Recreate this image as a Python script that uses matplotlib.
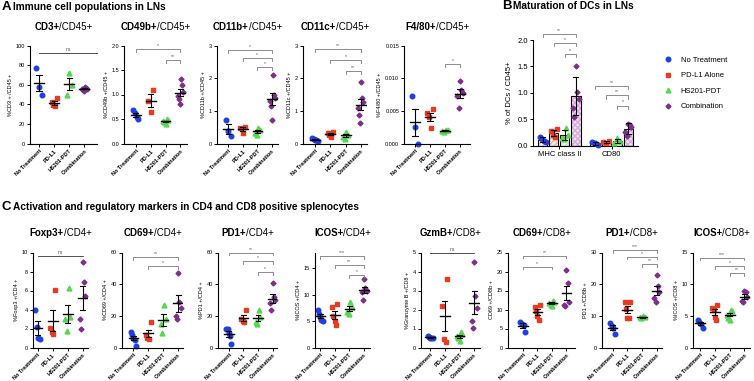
import matplotlib

matplotlib.use("Agg")
import matplotlib.pyplot as plt
import numpy as np
from matplotlib.lines import Line2D

plt.rcParams["font.family"] = ["Liberation Sans", "DejaVu Sans"]

W, H = 754, 381

GROUPS = ["No Treatment", "PD-L1", "HS201-PDT", "Combination"]
LEGEND = ["No Treatment", "PD-L1 Alone", "HS201-PDT", "Combination"]
COLORS = ["#1c3fe6", "#ea3a22", "#55d94f", "#7f2e8c"]
MARKERS = ["o", "s", "^", "D"]
MSIZE = [3.3, 3.1, 3.5, 2.5]

# --- panel A: immune cell populations in LNs (% of CD45+)
cd3 = [[77, 58, 49], [46, 42, 39, 38], [72, 60, 50], [58, 57, 56, 56, 55, 54]]
cd49b = [[0.68, 0.62, 0.55, 0.50], [1.10, 0.87, 0.65], [0.50, 0.47, 0.45, 0.43, 0.40],
         [1.31, 1.19, 1.05, 0.97, 0.90, 0.81]]
cd11b = [[0.72, 0.38, 0.23], [0.52, 0.48, 0.33], [0.48, 0.40, 0.33, 0.27],
         [2.10, 1.48, 1.38, 1.30, 1.15, 0.72]]
cd11c = [[0.16, 0.13, 0.12, 0.10, 0.08], [0.36, 0.31, 0.27, 0.20], [0.36, 0.27, 0.20, 0.15],
         [1.88, 1.40, 1.28, 1.10, 0.88, 0.62]]
f480 = [[0.0072, 0.0025, 0.0000], [0.0053, 0.0046, 0.0040, 0.0023],
        [0.0021, 0.0020, 0.0019, 0.0017], [0.0096, 0.0082, 0.0077, 0.0072, 0.0054]]

# --- panel B: DC maturation (% of DCs / CD45+)
dc_markers = ["MHC class II", "CD80"]
mhc2 = [[0.17, 0.13, 0.08, 0.07], [0.31, 0.28, 0.20, 0.17], [0.34, 0.20, 0.15, 0.13],
        [1.50, 1.02, 0.88, 0.72, 0.55]]
cd80 = [[0.07, 0.05, 0.02], [0.09, 0.07, 0.06], [0.14, 0.08, 0.06],
        [0.42, 0.39, 0.36, 0.25, 0.18]]

# --- panel C: splenocytes
foxp3_cd4 = [[4.0, 2.2, 1.0, 0.9], [6.1, 2.1, 1.6, 1.4], [6.3, 3.2, 3.0, 1.7],
             [9.0, 6.9, 5.4, 3.0, 1.9]]
cd69_cd4 = [[10, 8, 6, 5, 1], [16, 8, 6, 5.5], [27, 18, 15, 9], [47, 29, 25, 20, 18]]
pd1_cd4 = [[12, 11.5, 9, 7, 2.5], [23.5, 18, 17, 16], [24, 19, 16, 15],
           [40.5, 32, 30, 28, 23.5]]
icos_cd4 = [[7.2, 6.3, 5.8, 5.3, 5.0], [8.2, 7.6, 6.0, 5.0, 4.2], [8.7, 7.6, 6.8, 6.3],
            [13.0, 11.2, 10.8, 10.5, 9.0]]
gzmb_cd8 = [[0.62, 0.56, 0.52, 0.50, 0.48], [3.62, 2.18, 0.45, 0.28],
            [0.80, 0.72, 0.60, 0.50, 0.35], [4.5, 2.7, 2.1, 1.4, 1.05]]
cd69_cd8 = [[6.7, 6.3, 6.0, 4.1], [11.3, 10.6, 9.5, 8.2, 7.2], [12.3, 12.0, 11.6, 11.3, 11.0],
            [20.3, 17.0, 12.1, 11.2, 10.9]]
pd1_cd8 = [[7.6, 6.9, 6.3, 4.2], [14.5, 14.4, 12.3, 9.4, 9.2], [9.8, 9.6, 9.5, 9.3],
           [23.0, 19.4, 17.6, 15.6, 14.3]]
icos_cd8 = [[4.3, 4.1, 3.7, 3.1], [6.7, 6.3, 5.9, 4.8, 4.4], [6.0, 5.7, 5.2, 4.7, 4.4],
            [8.9, 8.7, 8.0, 7.4, 7.2]]

fig = plt.figure(figsize=(W / 100, H / 100), dpi=100)


def rect(x0, x1, ytop, ybot):
    return [x0 / W, 1 - ybot / H, (x1 - x0) / W, (ybot - ytop) / H]


def style_axes(ax, tick_size=4):
    for s in ("top", "right"):
        ax.spines[s].set_visible(False)
    for s in ("left", "bottom"):
        ax.spines[s].set_linewidth(0.8)
    ax.tick_params(length=2, width=0.7, labelsize=tick_size, pad=1.5)


def bracket(ax, x1, x2, y, label, drop=0.03, color="#7a7a7a", size=3.6):
    lo, hi = ax.get_ylim()
    d = drop * (hi - lo)
    xs = [x1, x1, x2, x2] if drop else [x1, x2]
    ys = [y - d, y, y, y - d] if drop else [y, y]
    ax.plot(xs, ys, color=color, lw=0.6, clip_on=False)
    ax.text((x1 + x2) / 2, y + 0.01 * (hi - lo), label, ha="center", va="bottom",
            fontsize=size, color="#555555", clip_on=False)


def mixed_title(ax, bold, rest, ypix, size=7):
    # bold marker name followed by the normal-weight parent population, centred over the axes
    r = fig.canvas.get_renderer()
    bb = ax.get_position()
    cx = (bb.x0 + bb.x1) / 2
    y = 1 - ypix / H
    t1 = fig.text(0, y, bold, fontweight="bold", fontsize=size, va="center")
    t2 = fig.text(0, y, rest, fontsize=size, va="center")
    w1 = t1.get_window_extent(r).width / fig.bbox.width
    w2 = t2.get_window_extent(r).width / fig.bbox.width
    x0 = cx - (w1 + w2) / 2
    t1.set_x(x0)
    t2.set_x(x0 + w1)


def dot_panel(pos, data, xlim, ylim, yticks, ylabel, title, tpix, brackets=(), fmt=None):
    ax = fig.add_axes(pos)
    for i, vals in enumerate(data):
        vals = np.asarray(vals, dtype=float)
        n = len(vals)
        offs = np.roll(np.linspace(-0.17, 0.17, n), i)
        ax.plot(i + offs, vals, ls="none", marker=MARKERS[i], ms=MSIZE[i],
                color=COLORS[i], mec=COLORS[i], clip_on=False, zorder=2)
        m = vals.mean()
        sem = vals.std(ddof=1) / np.sqrt(n)
        ax.plot([i - 0.33, i + 0.33], [m, m], color="black", lw=1.0, zorder=3)
        ax.plot([i, i], [m - sem, m + sem], color="black", lw=0.8, zorder=3)
        for e in (m - sem, m + sem):
            ax.plot([i - 0.17, i + 0.17], [e, e], color="black", lw=0.8, zorder=3)
    ax.set_xlim(*xlim)
    ax.set_ylim(*ylim)
    ax.set_yticks(yticks)
    if fmt:
        ax.set_yticklabels([fmt.format(t) for t in yticks])
    ax.set_xticks(range(4))
    ax.set_xticklabels(GROUPS, rotation=45, ha="right", rotation_mode="anchor",
                       fontweight="bold", fontsize=4)
    style_axes(ax)
    ax.set_ylabel(ylabel, fontsize=4, labelpad=2)
    for b in brackets:
        bracket(ax, *b)
    mixed_title(ax, title[0], title[1], tpix)
    return ax


# ---------------- row A
TA, BA = 45.5, 143.5
dot_panel(rect(30, 97, TA, BA), cd3, (-0.6, 3.85), (0, 100), [0, 20, 40, 60, 80, 100],
          "%CD3 + /CD45 +", ("CD3+", "/CD45+"), 27,
          brackets=[(0, 3.85, 92, "ns", 0, "#333333")])
dot_panel(rect(124, 187, TA, BA), cd49b, (-0.8, 3.45), (0, 2.0), [0, 0.5, 1.0, 1.5, 2.0],
          "%CD49b +/CD45 +", ("CD49b+", "/CD45+"), 27,
          brackets=[(0, 3, 1.93, "*"), (2, 3, 1.71, "**")], fmt="{:.1f}")
dot_panel(rect(217, 278, TA, BA), cd11b, (-0.75, 3.4), (0, 3), [0, 1, 2, 3],
          "%CD11b +/CD45 +", ("CD11b+", "/CD45+"), 27,
          brackets=[(0, 3, 2.87, "*"), (1, 3, 2.61, "*"), (2, 3, 2.33, "*")])
dot_panel(rect(303, 367, TA, BA), cd11c, (-0.78, 3.4), (0, 3), [0, 1, 2, 3],
          "%CD11c +/CD45 +", ("CD11c+", "/CD45+"), 27,
          brackets=[(0, 3, 2.9, "**"), (1, 3, 2.56, "*"), (2, 3, 2.22, "**")])
dot_panel(rect(404, 470, TA, BA), f480, (-0.73, 3.67), (0, 0.015),
          [0, 0.005, 0.010, 0.015], "%F4/80 +/CD45 +", ("F4/80+", "/CD45+"), 27,
          brackets=[(2, 3, 0.0122, "*")], fmt="{:.3f}")

# ---------------- panel B
axb = fig.add_axes(rect(533, 638, 40, 145.7))
bw, step = 0.18, 0.21
fills = ["#f3f4fc", "#fbe3df", "#eaf8e8", "#f3e3f3"]
hatch_cols = ["#c9cff5", "#f2b3a8", "#bfe9b9", "#d9a9de"]
hatches = ["//////", "//////", "//////", "xxxxxx"]
for g, grp in enumerate([mhc2, cd80]):
    for i, vals in enumerate(grp):
        vals = np.asarray(vals, dtype=float)
        x = g + (i - 1.5) * step
        m, sd = vals.mean(), vals.std(ddof=1)
        axb.bar(x, m, bw, color=fills[i], edgecolor=hatch_cols[i], hatch=hatches[i],
                lw=0, zorder=1)
        axb.bar(x, m, bw, fill=False, edgecolor="black", lw=0.8, zorder=2)
        axb.plot([x, x], [m - sd, m + sd], color="black", lw=0.8, zorder=4)
        for e in (m - sd, m + sd):
            axb.plot([x - 0.045, x + 0.045], [e, e], color="black", lw=0.8, zorder=4)
        offs = np.roll(np.linspace(-0.06, 0.06, len(vals)), i)
        axb.plot(x + offs, vals, ls="none", marker=MARKERS[i], ms=MSIZE[i],
                 color=COLORS[i], zorder=3, clip_on=False)
axb.set_xlim(-0.5, 1.5)
axb.set_ylim(0, 2.0)
axb.set_yticks([0, 0.5, 1.0, 1.5, 2.0])
axb.set_yticklabels(["0.0", "0.5", "1.0", "1.5", "2.0"])
axb.set_xticks([0, 1])
axb.set_xticklabels(dc_markers)
style_axes(axb, tick_size=5.5)
axb.set_ylabel("% of DCs / CD45+", fontsize=5.5, labelpad=3)
xs = [(i - 1.5) * step for i in range(4)]
for b in [(xs[0], xs[3], 2.11, "**"), (xs[1], xs[3], 1.94, "*"), (xs[2], xs[3], 1.73, "*"),
          (1 + xs[0], 1 + xs[3], 1.13, "**"), (1 + xs[1], 1 + xs[3], 0.95, "**"),
          (1 + xs[2], 1 + xs[3], 0.76, "*")]:
    bracket(axb, *b)
handles = [Line2D([], [], ls="none", marker=MARKERS[i], ms=MSIZE[i], color=COLORS[i])
           for i in range(4)]
fig.legend(handles, LEGEND, loc="center left", bbox_to_anchor=(664 / W, 1 - 83.5 / H),
           frameon=False, fontsize=5.5, handlelength=1.0, handletextpad=1.2,
           labelspacing=1.05, borderaxespad=0, borderpad=0)

# ---------------- row C
TC, BC = 252.5, 347.5
dot_panel(rect(33, 88, TC, BC), foxp3_cd4, (-0.3, 3.35), (0, 10), [0, 2, 4, 6, 8, 10],
          "%Foxp3 +/CD4 +", ("Foxp3+", "/CD4+"), 233,
          brackets=[(0, 3, 9.65, "ns", 0, "#333333")])
dot_panel(rect(122, 183, TC, BC), cd69_cd4, (-0.77, 3.33), (0, 60), [0, 20, 40, 60],
          "%CD69 +/CD4 +", ("CD69+", "/CD4+"), 233,
          brackets=[(0, 3, 57, "**"), (1, 3, 51.5, "*")])
dot_panel(rect(218, 277, TC, BC), pd1_cd4, (-0.74, 3.3), (0, 60), [0, 20, 40, 60],
          "%PD1 +/CD4 +", ("PD1+", "/CD4+"), 233,
          brackets=[(0, 3, 60, "**"), (1, 3, 54.7, "*"), (2, 3, 47.4, "*")])
dot_panel(rect(315, 370, TC, BC), icos_cd4, (-0.34, 3.4), (0, 18), [0, 5, 10, 15],
          "%ICOS +/CD4 +", ("ICOS+", "/CD4+"), 233,
          brackets=[(0, 3, 17.3, "***"), (1, 3, 15.6, "**"), (2, 3, 13.7, "*")])
dot_panel(rect(421, 480, TC, BC), gzmb_cd8, (-0.63, 3.4), (0, 5), [0, 1, 2, 3, 4, 5],
          "%Granzyme B +/CD8 +", ("GzmB+", "/CD8+"), 233,
          brackets=[(0, 3, 4.97, "ns", 0, "#333333")])
dot_panel(rect(508, 575, TC, BC), cd69_cd8, (-1.03, 3.6), (0, 25), [0, 5, 10, 15, 20, 25],
          "CD69 +/CD8b +", ("CD69+", "/CD8+"), 233,
          brackets=[(0, 3, 24.2, "**"), (0, 2, 21.3, "*")])
dot_panel(rect(602, 662, TC, BC), pd1_cd8, (-0.72, 3.35), (0, 30), [0, 10, 20, 30],
          "PD1 +/CD8b +", ("PD1+", "/CD8+"), 233,
          brackets=[(0, 3, 30.7, "***"), (1, 3, 28.7, "*"), (2, 3, 26.3, "**")])
dot_panel(rect(693, 750, TC, BC), icos_cd8, (-0.49, 3.38), (0, 15), [0, 5, 10, 15],
          "%ICOS +/CD8 +", ("ICOS+", "/CD8+"), 233,
          brackets=[(0, 3, 14.2, "***"), (1, 3, 12.9, "*"), (2, 3, 11.7, "**")])

# ---------------- section headings
for letter, text, x, y in [("A", "Immune cell populations in LNs", 2, 7),
                           ("B", "Maturation of DCs in LNs", 502, 6),
                           ("C", "Activation and regulatory markers in CD4 and CD8 positive splenocytes", 2, 207.5)]:
    fig.text(x / W, 1 - y / H, letter, fontsize=9.5, fontweight="bold", va="center")
    fig.text((x + 11) / W, 1 - y / H, text, fontsize=7.3, fontweight="bold", va="center")

fig.savefig("out.png", dpi=100)
